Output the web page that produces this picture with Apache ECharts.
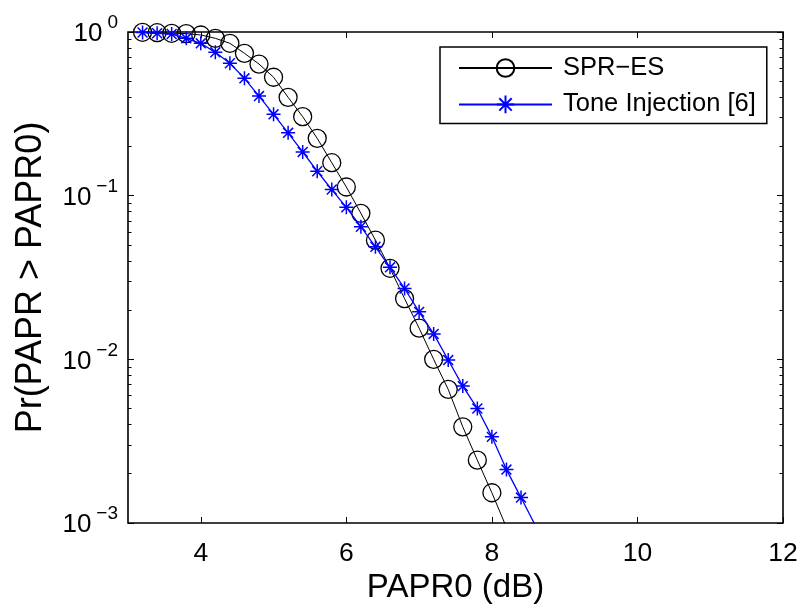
<!DOCTYPE html>
<html>
<head>
<meta charset="utf-8">
<script src="https://cdn.jsdelivr.net/npm/echarts@6/dist/echarts.min.js"></script>
<style>html,body{margin:0;padding:0;background:#fff}#c{width:804px;height:609px}</style>
</head>
<body>
<div id="c"></div>
<script>
const sprX = [3.2, 3.4, 3.6, 3.8, 4.0, 4.2, 4.4, 4.6, 4.8, 5.0, 5.2, 5.4, 5.6, 5.8, 6.0, 6.2, 6.4, 6.6, 6.8, 7.0, 7.2, 7.4, 7.6, 7.8, 8.0, 8.2];
const sprY = [0.996, 0.990, 0.982, 0.978, 0.959, 0.915, 0.853, 0.741, 0.637, 0.529, 0.399, 0.304, 0.224, 0.159, 0.113, 0.078, 0.0535, 0.036, 0.0235, 0.0155, 0.0100, 0.00655, 0.00387, 0.00242, 0.00153, 0.00094];
const tiX = [3.2, 3.4, 3.6, 3.8, 4.0, 4.2, 4.4, 4.6, 4.8, 5.0, 5.2, 5.4, 5.6, 5.8, 6.0, 6.2, 6.4, 6.6, 6.8, 7.0, 7.2, 7.4, 7.6, 7.8, 8.0, 8.2, 8.4, 8.6];
const tiY = [0.993, 0.982, 0.972, 0.915, 0.853, 0.751, 0.644, 0.521, 0.406, 0.314, 0.242, 0.185, 0.141, 0.109, 0.0849, 0.0646, 0.0487, 0.0365, 0.0271, 0.0195, 0.0143, 0.0099, 0.00686, 0.00501, 0.00336, 0.00212, 0.00143, 0.00096];
const xTicks = [4, 6, 8, 10, 12];
const yMinorTicks = [0.002, 0.003, 0.004, 0.005, 0.006, 0.007, 0.008, 0.009,
                     0.02, 0.03, 0.04, 0.05, 0.06, 0.07, 0.08, 0.09,
                     0.2, 0.3, 0.4, 0.5, 0.6, 0.7, 0.8, 0.9];
const seriesNames = ['SPR\u2212ES', 'Tone Injection [6]'];
const xName = 'PAPR0 (dB)';
const yName = 'Pr(PAPR > PAPR0)';

const FONT = 'Liberation Sans, Arial, Helvetica, sans-serif';
const gridRect = {left: 128, top: 32, right: 21, bottom: 86, outerBoundsMode: 'none'};
const starPath = 'path://M0,-10L0,10M-10,0L10,0M-7.07,-7.07L7.07,7.07M-7.07,7.07L7.07,-7.07';

const chart = echarts.init(document.getElementById('c'), null, {renderer: 'canvas'});
const pairs = (xs, ys) => xs.map((x, i) => [x, ys[i]]);

const hiddenLabel = {show: false};
const option = {
  animation: false,
  backgroundColor: '#fff',
  textStyle: {fontFamily: FONT},
  grid: [
    Object.assign({show: true, borderColor: '#000', borderWidth: 1.6, backgroundColor: 'transparent'}, gridRect),
    Object.assign({show: false}, gridRect)
  ],
  legend: {
    orient: 'vertical',
    left: 440, top: 47,
    padding: [8, 11, 6, 18],
    itemWidth: 93, itemHeight: 22, itemGap: 10.4,
    backgroundColor: '#fff',
    borderColor: '#000', borderWidth: 1.5, borderRadius: 0,
    textStyle: {fontFamily: FONT, fontSize: 25.5, lineHeight: 22, color: '#000', padding: [0, 0, 0, 6]},
    data: seriesNames
  },
  xAxis: [
    {
      type: 'value', gridIndex: 0, position: 'bottom', min: 3, max: 12,
      name: xName, nameLocation: 'middle', nameGap: 45,
      nameTextStyle: {fontFamily: FONT, fontSize: 33, color: '#000'},
      axisLine: {show: false},
      axisTick: {show: true, inside: true, length: 6, lineStyle: {color: '#000', width: 1}, customValues: xTicks},
      axisLabel: {show: true, margin: 17, fontFamily: FONT, fontSize: 26.5, color: '#000', customValues: xTicks},
      splitLine: {show: false}
    },
    {
      type: 'value', gridIndex: 0, position: 'top', min: 3, max: 12,
      axisLine: {show: false},
      axisTick: {show: true, inside: true, length: 6, lineStyle: {color: '#000', width: 1}, customValues: xTicks},
      axisLabel: hiddenLabel,
      splitLine: {show: false}
    },
    {
      type: 'value', gridIndex: 1, position: 'bottom', min: 3, max: 12, show: false
    }
  ],
  yAxis: [
    {
      type: 'log', logBase: 10, gridIndex: 0, position: 'left', min: 0.001, max: 1,
      name: yName, nameLocation: 'middle', nameGap: 79,
      nameTextStyle: {fontFamily: FONT, fontSize: 36, color: '#000'},
      axisLine: {show: false},
      axisTick: {show: true, inside: true, length: 6, lineStyle: {color: '#000', width: 1}},
      axisLabel: {
        show: true, margin: 10, color: '#000',
        formatter: function (v) {
          const e = Math.round(Math.log10(v));
          const s = e < 0 ? '\u2212' + String(-e) : String(e);
          return '{b|10}{s|' + s + '}';
        },
        rich: {
          b: {fontFamily: FONT, fontSize: 26, color: '#000', padding: [4, 0, 0, 0]},
          s: {fontFamily: FONT, fontSize: 19, color: '#000', padding: [0, 0, 18, 5]}
        }
      },
      splitLine: {show: false}
    },
    {
      type: 'log', logBase: 10, gridIndex: 0, position: 'right', min: 0.001, max: 1,
      axisLine: {show: false},
      axisTick: {show: true, inside: true, length: 6, lineStyle: {color: '#000', width: 1}},
      axisLabel: hiddenLabel,
      splitLine: {show: false}
    },
    {
      type: 'log', logBase: 10, gridIndex: 1, position: 'left', min: 0.001, max: 1,
      axisLine: {show: false},
      axisTick: {show: true, inside: true, length: 3.5, lineStyle: {color: '#000', width: 1}, customValues: yMinorTicks},
      axisLabel: hiddenLabel,
      splitLine: {show: false}
    },
    {
      type: 'log', logBase: 10, gridIndex: 1, position: 'right', min: 0.001, max: 1,
      axisLine: {show: false},
      axisTick: {show: true, inside: true, length: 3.5, lineStyle: {color: '#000', width: 1}, customValues: yMinorTicks},
      axisLabel: hiddenLabel,
      splitLine: {show: false}
    }
  ],
  series: [
    {
      name: seriesNames[0], type: 'line', xAxisIndex: 0, yAxisIndex: 0,
      data: pairs(sprX, sprY),
      symbol: 'circle', symbolSize: 18, showSymbol: true, showAllSymbol: true,
      clip: true,
      lineStyle: {color: '#000', width: 1},
      itemStyle: {color: 'rgba(0,0,0,0)', borderColor: '#000', borderWidth: 1.3},
      emphasis: {disabled: true},
      z: 2
    },
    {
      name: seriesNames[1], type: 'line', xAxisIndex: 0, yAxisIndex: 0,
      data: pairs(tiX, tiY),
      symbol: starPath, symbolSize: 14, showSymbol: true, showAllSymbol: true,
      clip: true,
      lineStyle: {color: '#0000ff', width: 1.3},
      itemStyle: {color: '#0000ff', borderColor: '#0000ff', borderWidth: 1.5},
      emphasis: {disabled: true},
      z: 3
    }
  ]
};
chart.setOption(option);
</script>
</body>
</html>
